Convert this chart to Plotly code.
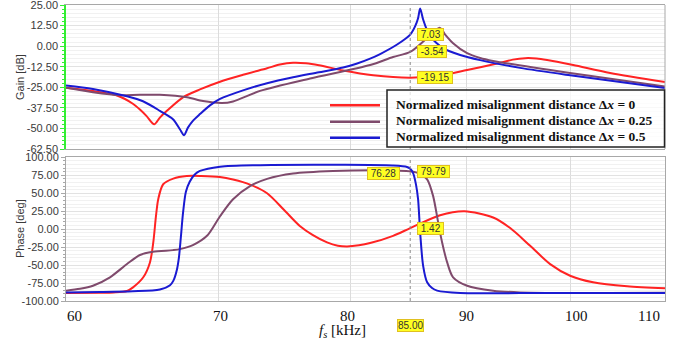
import numpy as np
import plotly.graph_objects as go

# ---------------- data ----------------
series_names = [
    "Normalized misalignment distance Δ<i>x</i> = 0",
    "Normalized misalignment distance Δ<i>x</i> = 0.25",
    "Normalized misalignment distance Δ<i>x</i> = 0.5",
]
series_colors = ["#ff2323", "#7f4a6c", "#1a1ad2"]

# Gain [dB]
gain_f_red = [60, 61.66, 63.18, 64.2, 64.66, 65.1, 65.6, 65.98, 66.45, 67.54, 68.71, 70.12,
              71.77, 73.54, 74.5, 75.5, 76.5, 77.5, 79.42, 81.87, 85.0, 87.61, 90.04, 92.82,
              94.3, 95.49, 96.6, 97.63, 100.24, 104.06, 110]
gain_red = [-25.3, -27.3, -30.0, -35.0, -38.5, -42.5, -47.5, -43.4, -39.3, -31.1, -26.3, -21.6,
            -17.4, -13.4, -11.2, -10.1, -10.4, -11.6, -14.8, -17.7, -19.15, -17.9, -14.5, -10.5,
            -8.2, -7.3, -7.5, -8.4, -11.5, -16.3, -21.8]

gain_f_purple = [60, 61.66, 63.37, 64.66, 65.98, 67.81, 68.92, 70.26, 71.05, 73.02, 76.81,
                 81.62, 83.54, 85.0, 86.47, 87.0, 87.61, 88.06, 88.77, 90.04, 91.23, 92.44,
                 99.93, 110]
gain_purple = [-25.3, -28.0, -29.8, -29.5, -29.6, -31.1, -33.4, -34.6, -33.6, -27.2, -19.7,
               -11.5, -6.6, -3.54, 5.0, 8.6, 11.1, 7.0, 1.8, -4.3, -7.2, -9.0,
               -16.3, -24.5]

gain_f_blue = [60, 61.66, 63.82, 64.86, 65.98, 66.86, 67.33, 67.61, 67.88, 68.22, 68.71,
               69.41, 70.12, 71.77, 73.54, 75.5, 77.5, 79.42, 80.5, 81.62, 82.45, 83.88, 85.0,
               85.42, 85.68, 85.86, 86.12, 86.47, 86.73, 87.88, 89.41, 91.23, 95.0, 99.93, 110]
gain_blue = [-23.9, -26.0, -30.5, -33.5, -39.3, -44.4, -50.5, -54.1, -49.5, -45.4, -41.3,
             -36.0, -32.1, -26.9, -22.5, -18.9, -15.9, -13.0, -10.7, -7.6, -4.8, 1.0, 7.03,
             12.0, 17.0, 22.8, 16.2, 9.5, 5.9, -1.2, -5.4, -8.5, -13.2, -17.7, -25.5]

# Phase [deg]
ph_f_red = [60, 62.1, 62.95, 63.82, 64.21, 64.88, 65.32, 65.54, 65.72, 65.87, 66.2, 66.88,
            67.8, 68.8, 70.12, 71.05, 72.28, 73.54, 74.8, 76.04, 77.0, 78.14, 79.0, 79.74,
            80.7, 81.62, 83.54, 85.0, 87.61, 89.8, 92.44, 94.05, 95.97, 97.93, 99.93,
            102.28, 105.86, 110]
ph_red = [-88.9, -88.5, -88, -86, -81, -67, -46.3, -18.5, 18.5, 41.7, 62.5, 70.4,
          74, 74, 72.5, 69, 62, 50, 27, 4, -8, -18.5, -23, -24,
          -22.5, -19.4, -9.3, 1.42, 19.4, 25, 16.2, 1.5, -23.2, -48.6, -64.8,
          -74, -79.6, -82.4]

ph_f_purple = [60, 60.86, 61.66, 62.73, 63.82, 64.66, 65.52, 66.86, 67.33, 68.22, 69.2,
               70.12, 71.05, 72.28, 73.54, 75.5, 78.62, 82.45, 85.0, 85.86, 86.47, 86.99,
               87.44, 87.79, 88.24, 88.77, 90.04, 92.44, 95.0, 110]
ph_purple = [-85.6, -83, -78.7, -67, -48.6, -36, -31.5, -29.2, -27.8, -22.2, -9.3,
             18, 41.7, 60, 70, 77.5, 81, 82, 80.5, 77, 69.4, 46.3,
             9.3, -18.5, -46.3, -67, -78.7, -85.6, -88, -88.5]

ph_f_blue = [60, 62.1, 64.2, 65.98, 66.66, 66.88, 67.13, 67.26, 67.4, 67.54, 67.74, 68.0,
             68.35, 68.71, 70.12, 73.02, 79.42, 83.5, 84.73, 85.0, 85.25, 85.5, 85.68,
             85.86, 86.12, 86.47, 86.9, 87.35, 89.41, 95.0, 110]
ph_blue = [-88, -87.5, -86.5, -84, -78, -72, -56, -40, -10, 22, 52, 66,
           76, 81, 87, 89, 89.5, 88.5, 86.5, 84, 78, 62, 41.7,
           -4.6, -51, -74, -82, -85.6, -88.9, -89, -89]

# Cursor read-outs at 85 kHz
cursor_f = 85.0
cursor_label = "85.00"
gain_marks = [7.03, -3.54, -19.15]
phase_marks_right = [79.79, 1.42]
phase_marks_left = [76.28]

# Axis ticks / titles
x_ticks = [60, 70, 80, 90, 100, 110]
x_ticktext = ["60", "70", "80", "90", "100", "110"]
gain_ticks = [25, 12.5, 0, -12.5, -25, -37.5, -50, -62.5]
gain_ticktext = ["25.00", "12.50", "0.00", "-12.50", "-25.00", "-37.50", "-50.00", "-62.50"]
phase_ticks = [100, 75, 50, 25, 0, -25, -50, -75, -100]
phase_ticktext = ["100.00", "75.00", "50.00", "25.00", "0.00", "-25.00", "-50.00", "-75.00", "-100.00"]
gain_title = "Gain [dB]"
phase_title = "Phase [deg]"
x_title = "<i>f</i><sub><i>s</i></sub> [kHz]"

# ---------------- figure ----------------
W, H = 679, 344
ML, MR, MT, MB = 66, 14, 5, 43
PW, PH = W - ML - MR, H - MT - MB


def px_x(px):
    return (px - ML) / PW


def px_y(py):
    return 1 - (py - MT) / PH


fig = go.Figure()
gain_sets = [(gain_f_red, gain_red), (gain_f_purple, gain_purple), (gain_f_blue, gain_blue)]
phase_sets = [(ph_f_red, ph_red), (ph_f_purple, ph_purple), (ph_f_blue, ph_blue)]
for (fx, fy), c in zip(gain_sets, series_colors):
    fig.add_trace(go.Scatter(x=fx, y=fy, mode="lines", xaxis="x", yaxis="y",
                             line=dict(color=c, width=2, shape="spline", smoothing=0.8),
                             showlegend=False, hoverinfo="skip"))
for (fx, fy), c in zip(phase_sets, series_colors):
    fig.add_trace(go.Scatter(x=fx, y=fy, mode="lines", xaxis="x2", yaxis="y2",
                             line=dict(color=c, width=2, shape="spline", smoothing=0.8),
                             showlegend=False, hoverinfo="skip"))

xr = [np.log10(60), np.log10(110)]
top_dom = [px_y(149), 1.0]
bot_dom = [0.0, px_y(157.3)]
tickfont = dict(family="Liberation Sans, Arial", size=11, color="#3a3a3a")
titlefont = dict(family="Liberation Sans, Arial", size=11, color="#3a3a3a")

common_x = dict(type="log", range=xr, tickvals=x_ticks, showgrid=True, gridcolor="#dcdcdc",
                gridwidth=1, zeroline=False, showline=True, mirror=True, linecolor="#a8a8a8",
                ticks="", showticklabels=False, automargin=False)
fig.update_layout(
    width=W, height=H, margin=dict(l=ML, r=MR, t=MT, b=MB, autoexpand=False),
    paper_bgcolor="white", plot_bgcolor="white",
    xaxis=dict(**common_x, anchor="y", matches="x2"),
    xaxis2=dict(**common_x, anchor="y2"),
    yaxis=dict(domain=top_dom, range=[-62.5, 25], tickvals=gain_ticks, ticktext=gain_ticktext,
               tickfont=tickfont, ticklabeloverflow="allow", showgrid=True, gridcolor="#e2e2e2",
               zeroline=False, showline=True, linecolor="#33ee33", linewidth=1.5, mirror=False,
               ticks="outside", ticklen=4, tickcolor="#33ee33", automargin=False,
               minor=dict(dtick=2.5, showgrid=True, gridcolor="#f1f1f1", ticks="outside",
                          ticklen=2, tickcolor="#33ee33")),
    yaxis2=dict(domain=bot_dom, range=[-100, 100], tickvals=phase_ticks, ticktext=phase_ticktext,
                tickfont=tickfont, ticklabeloverflow="allow", showgrid=True, gridcolor="#e2e2e2",
                zeroline=False, showline=True, linecolor="#a8a8a8", mirror=True, automargin=False,
                ticks="outside", ticklen=4, tickcolor="#a8a8a8",
                minor=dict(dtick=5, showgrid=True, gridcolor="#f1f1f1", ticks="outside",
                           ticklen=2, tickcolor="#a8a8a8")),
)

shapes = []
# right border for the top panel
shapes.append(dict(type="line", xref="paper", yref="paper", x0=1, x1=1, y0=top_dom[0], y1=top_dom[1],
                   line=dict(color="#a8a8a8", width=1)))
# cursor dotted line at 85 kHz
for yr in ("y domain", "y2 domain"):
    shapes.append(dict(type="line", xref="x", yref=yr, x0=cursor_f, x1=cursor_f, y0=0, y1=1,
                       line=dict(color="#8a8a8a", width=1, dash="dot")))
# legend box & line samples
shapes.append(dict(type="rect", xref="paper", yref="paper", x0=px_x(387), x1=px_x(664.5),
                   y0=px_y(147), y1=px_y(90), line=dict(color="#222", width=1.5),
                   fillcolor="rgba(255,255,255,0.75)", layer="above"))
leg_y = [105.3, 121.7, 137.7]
for c, yy in zip(series_colors, leg_y):
    shapes.append(dict(type="line", xref="paper", yref="paper", x0=px_x(330), x1=px_x(380),
                       y0=px_y(yy), y1=px_y(yy), line=dict(color=c, width=2.5), layer="above"))
fig.update_layout(shapes=shapes)

ann = []
for name, yy in zip(series_names, [104.5, 120.5, 136.5]):
    ann.append(dict(xref="paper", yref="paper", x=px_x(394), y=px_y(yy), xanchor="left",
                    yanchor="middle", showarrow=False, text="<b>" + name + "</b>",
                    font=dict(family="Liberation Serif, Times New Roman", size=13.5, color="#111")))

# y axis titles
for t, yy in ((gain_title, 77), (phase_title, 229)):
    ann.append(dict(xref="paper", yref="paper", x=px_x(20), y=px_y(yy), xanchor="center",
                    yanchor="middle", showarrow=False, text=t, textangle=-90, font=titlefont))

# x tick labels (serif, as in the reference)
x_label_shift = {60: 8, 70: 2, 80: -3, 90: 0, 100: 6, 110: -16}
for v, t in zip(x_ticks, x_ticktext):
    ann.append(dict(xref="x2", yref="paper", x=np.log10(v), y=px_y(316), xanchor="center",
                    yanchor="middle", xshift=x_label_shift[v], showarrow=False, text=t,
                    font=dict(family="Liberation Serif, Times New Roman", size=15, color="#111")))

ybox = dict(bgcolor="#ffff22", bordercolor="#e0c020", borderwidth=1, borderpad=0,
            font=dict(family="Liberation Sans, Arial", size=10, color="#333"), showarrow=False)
for v in gain_marks:
    ann.append(dict(xref="x", yref="y", x=np.log10(cursor_f), y=v, xanchor="left", xshift=7,
                    yanchor="middle", text="&nbsp;%.2f&nbsp;" % v, **ybox))
for v in phase_marks_right:
    ann.append(dict(xref="x2", yref="y2", x=np.log10(cursor_f), y=v, xanchor="left", xshift=7,
                    yanchor="middle", text="&nbsp;%.2f&nbsp;" % v, **ybox))
for v in phase_marks_left:
    ann.append(dict(xref="x2", yref="y2", x=np.log10(cursor_f), y=v + 1, xanchor="right", xshift=-10,
                    yanchor="middle", text="&nbsp;%.2f&nbsp;" % v, **ybox))
ann.append(dict(xref="x2", yref="paper", x=np.log10(cursor_f), y=px_y(325), xanchor="center",
                yanchor="middle", text=cursor_label, **ybox))
ann.append(dict(xref="paper", yref="paper", x=px_x(342), y=px_y(331), xanchor="center",
                yanchor="middle", showarrow=False, text=x_title,
                font=dict(family="Liberation Serif, Times New Roman", size=15, color="#111")))
fig.update_layout(annotations=ann)

fig.write_html("out.html", config={"displayModeBar": False},
               post_script="document.body.style.margin='0px';document.body.style.overflow='hidden';")
